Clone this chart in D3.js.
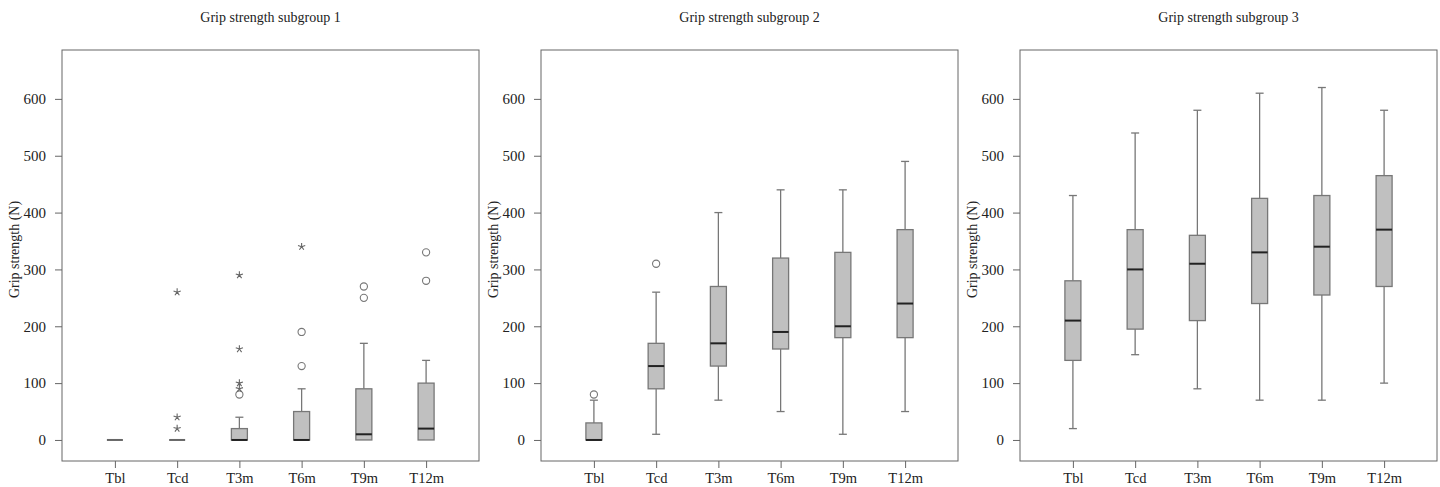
<!DOCTYPE html>
<html>
<head>
<meta charset="utf-8">
<script src="https://cdn.jsdelivr.net/npm/d3@7"></script>
<style>
  body { margin: 0; background: #fff; }
  text { font-family: "Liberation Serif", "Times New Roman", serif; fill: #222; }
</style>
</head>
<body>
<div id="chart"></div>
<script>
// time points and tick labels
const categories = ["Tbl", "Tcd", "T3m", "T6m", "T9m", "T12m"];
const yTicks = [0, 100, 200, 300, 400, 500, 600];
const titles = ["Grip strength subgroup 1", "Grip strength subgroup 2", "Grip strength subgroup 3"];

// subgroup 1
const g1Low = [0, 0, 0, 0, 0, 0];
const g1Q1 = [0, 0, 0, 0, 0, 0];
const g1Med = [0, 0, 0, 0, 10, 20];
const g1Q3 = [0, 0, 20, 50, 90, 100];
const g1High = [0, 0, 40, 90, 170, 140];
const g1Circles = [[], [], [80], [130, 190], [250, 270], [280, 330]];
const g1Stars = [[], [20, 40, 260], [90, 100, 160, 290], [340], [], []];

// subgroup 2
const g2Low = [0, 10, 70, 50, 10, 50];
const g2Q1 = [0, 90, 130, 160, 180, 180];
const g2Med = [0, 130, 170, 190, 200, 240];
const g2Q3 = [30, 170, 270, 320, 330, 370];
const g2High = [70, 260, 400, 440, 440, 490];
const g2Circles = [[80], [310], [], [], [], []];
const g2Stars = [[], [], [], [], [], []];

// subgroup 3
const g3Low = [20, 150, 90, 70, 70, 100];
const g3Q1 = [140, 195, 210, 240, 255, 270];
const g3Med = [210, 300, 310, 330, 340, 370];
const g3Q3 = [280, 370, 360, 425, 430, 465];
const g3High = [430, 540, 580, 610, 620, 580];
const g3Circles = [[], [], [], [], [], []];
const g3Stars = [[], [], [], [], [], []];

const groups = [
  {low: g1Low, q1: g1Q1, med: g1Med, q3: g1Q3, high: g1High, circles: g1Circles, stars: g1Stars},
  {low: g2Low, q1: g2Q1, med: g2Med, q3: g2Q3, high: g2High, circles: g2Circles, stars: g2Stars},
  {low: g3Low, q1: g3Q1, med: g3Med, q3: g3Q3, high: g3High, circles: g3Circles, stars: g3Stars}
];

const W = 1440, H = 487;
const panelLeft = [62, 541, 1020];
const pw = 417, plotTop = 50, plotBottom = 461;
const boxW = 16, capW = 8;
const lineCol = "#777", frameCol = "#666";

const svg = d3.select("#chart").append("svg")
  .attr("width", W).attr("height", H);

const y = d3.scaleLinear().domain([-37, 686]).range([plotBottom, plotTop]);

// 5-arm asterisk used for extreme values
function starPath(r) {
  let p = "";
  for (let k = 0; k < 5; k++) {
    const a = -Math.PI / 2 + k * 2 * Math.PI / 5;
    p += "M0,0L" + (r * Math.cos(a)).toFixed(2) + "," + (r * Math.sin(a)).toFixed(2);
  }
  return p;
}

groups.forEach((g, gi) => {
  const left = panelLeft[gi];
  const x = d3.scalePoint().domain(categories).range([left, left + pw]).padding(0.85);
  const panel = svg.append("g");

  // frame
  panel.append("rect")
    .attr("x", left).attr("y", plotTop)
    .attr("width", pw).attr("height", plotBottom - plotTop)
    .attr("fill", "none").attr("stroke", frameCol).attr("stroke-width", 1);

  // y axis
  const yAxis = panel.append("g")
    .attr("transform", `translate(${left},0)`)
    .call(d3.axisLeft(y).tickValues(yTicks).tickSize(7).tickPadding(9));
  yAxis.select(".domain").remove();
  yAxis.selectAll("line").attr("stroke", frameCol);
  yAxis.selectAll("text").attr("font-size", 15).attr("fill", "#222")
    .attr("font-family", "Liberation Serif, serif");

  // x axis
  const xAxis = panel.append("g")
    .attr("transform", `translate(0,${plotBottom})`)
    .call(d3.axisBottom(x).tickSize(7).tickPadding(5));
  xAxis.select(".domain").remove();
  xAxis.selectAll("line").attr("stroke", frameCol);
  xAxis.selectAll("text").attr("font-size", 14.5).attr("fill", "#222")
    .attr("font-family", "Liberation Serif, serif");

  // titles
  panel.append("text")
    .attr("x", left + pw / 2).attr("y", 22)
    .attr("text-anchor", "middle").attr("font-size", 14)
    .text(titles[gi]);

  panel.append("text")
    .attr("transform", `translate(${left - 43},${(plotTop + plotBottom) / 2 - 6}) rotate(-90)`)
    .attr("text-anchor", "middle").attr("font-size", 14)
    .text("Grip strength (N)");

  const rows = categories.map((c, i) => ({
    c, low: g.low[i], q1: g.q1[i], med: g.med[i], q3: g.q3[i], high: g.high[i],
    circles: g.circles[i], stars: g.stars[i]
  }));

  const box = panel.selectAll(".box").data(rows).enter().append("g").attr("class", "box");

  // whiskers
  box.append("line")
    .attr("x1", d => x(d.c)).attr("x2", d => x(d.c))
    .attr("y1", d => y(d.high)).attr("y2", d => y(d.q3))
    .attr("stroke", lineCol).attr("stroke-width", 1.3);
  box.append("line")
    .attr("x1", d => x(d.c)).attr("x2", d => x(d.c))
    .attr("y1", d => y(d.q1)).attr("y2", d => y(d.low))
    .attr("stroke", lineCol).attr("stroke-width", 1.3);
  box.filter(d => d.high > d.q3).append("line")
    .attr("x1", d => x(d.c) - capW / 2).attr("x2", d => x(d.c) + capW / 2)
    .attr("y1", d => y(d.high)).attr("y2", d => y(d.high))
    .attr("stroke", lineCol).attr("stroke-width", 1.3);
  box.filter(d => d.low < d.q1).append("line")
    .attr("x1", d => x(d.c) - capW / 2).attr("x2", d => x(d.c) + capW / 2)
    .attr("y1", d => y(d.low)).attr("y2", d => y(d.low))
    .attr("stroke", lineCol).attr("stroke-width", 1.3);

  // boxes
  box.filter(d => d.q3 > d.q1).append("rect")
    .attr("x", d => x(d.c) - boxW / 2).attr("width", boxW)
    .attr("y", d => y(d.q3)).attr("height", d => y(d.q1) - y(d.q3))
    .attr("fill", "#c0c0c0").attr("stroke", lineCol).attr("stroke-width", 1.3);

  // medians
  box.append("line")
    .attr("x1", d => x(d.c) - boxW / 2).attr("x2", d => x(d.c) + boxW / 2)
    .attr("y1", d => y(d.med)).attr("y2", d => y(d.med))
    .attr("stroke", d => d.q3 > d.q1 ? "#222" : "#666").attr("stroke-width", 2);

  // outliers
  box.selectAll(".out").data(d => d.circles.map(v => ({c: d.c, v}))).enter()
    .append("circle")
    .attr("cx", d => x(d.c)).attr("cy", d => y(d.v)).attr("r", 3.6)
    .attr("fill", "#fff").attr("stroke", "#777").attr("stroke-width", 1.1);

  // extremes
  box.selectAll(".ext").data(d => d.stars.map(v => ({c: d.c, v}))).enter()
    .append("path")
    .attr("d", starPath(3.8))
    .attr("transform", d => `translate(${x(d.c)},${y(d.v)})`)
    .attr("fill", "none").attr("stroke", "#666").attr("stroke-width", 1.1);
});
</script>
</body>
</html>
